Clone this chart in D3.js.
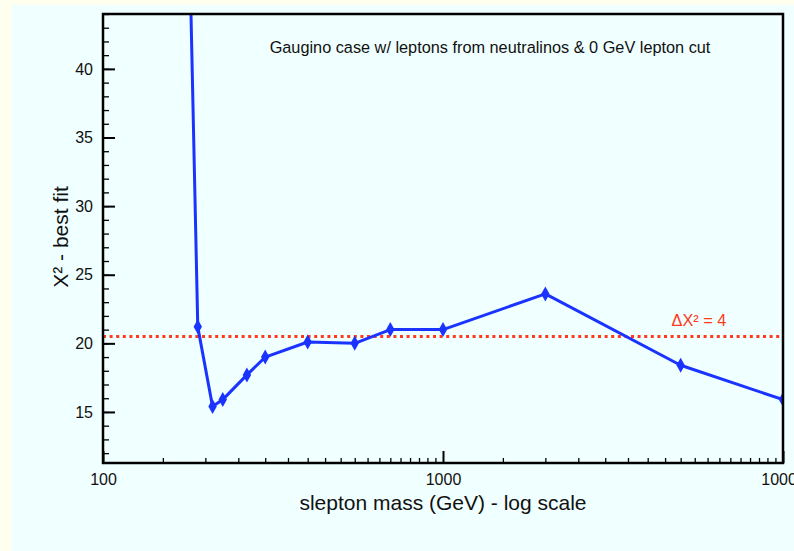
<!DOCTYPE html>
<html>
<head>
<meta charset="utf-8">
<script src="https://cdn.jsdelivr.net/npm/d3@7"></script>
<style>
  html, body { margin: 0; padding: 0; background: #fffff0; }
  svg { display: block; font-family: "Liberation Sans", Arial, Helvetica, sans-serif; }
</style>
</head>
<body>
<div id="chart"></div>
<script>
// slepton mass (GeV) and chi^2 values
const mass = [175, 190, 210, 225, 265, 300, 400, 550, 700, 1000, 2000, 5000, 10000];
const chi2 = [62, 21.2, 15.4, 15.9, 17.7, 19.0, 20.1, 20.0, 21.0, 21.0, 23.6, 18.4, 15.9];
const deltaLine = 20.5;

const xMajor = [100, 1000, 10000];
const xMinor = [];
[100, 1000].forEach(dec => {
    for (let k = 1.5; k < 10; k += 0.5) xMinor.push(dec * k);
});
const yMajor = [15, 20, 25, 30, 35, 40];
const yMinor = d3.range(12, 45);

const width = 794, height = 551;
const plot = { left: 103, right: 783, top: 14, bottom: 463 };

const svg = d3.select("#chart").append("svg")
    .attr("width", width)
    .attr("height", height);

// cyan panel
svg.append("rect")
    .attr("x", 12).attr("y", 5)
    .attr("width", width - 12).attr("height", height - 5)
    .attr("fill", "#f0ffff");

const x = d3.scaleLog().domain([100, 10000]).range([plot.left, plot.right]);
const y = d3.scaleLinear().domain([11.28, 44]).range([plot.bottom, plot.top]);

svg.append("clipPath").attr("id", "plot-clip")
    .append("rect")
    .attr("x", plot.left).attr("y", plot.top)
    .attr("width", plot.right - plot.left)
    .attr("height", plot.bottom - plot.top);

const pts = mass.map((m, i) => ({ m: m, v: chi2[i] }));

const g = svg.append("g").attr("clip-path", "url(#plot-clip)");

// delta chi^2 = 4 line
g.append("line")
    .attr("x1", plot.left).attr("x2", plot.right)
    .attr("y1", y(deltaLine)).attr("y2", y(deltaLine))
    .attr("stroke", "#ff3a1a")
    .attr("stroke-width", 3)
    .attr("stroke-dasharray", "3 3.6");

const line = d3.line().x(d => x(d.m)).y(d => y(d.v));

g.append("path")
    .datum(pts)
    .attr("d", line)
    .attr("fill", "none")
    .attr("stroke", "#1a33ff")
    .attr("stroke-width", 3)
    .attr("stroke-linejoin", "round");

// tall diamonds
g.selectAll("path.marker")
    .data(pts)
    .enter().append("path")
    .attr("class", "marker")
    .attr("transform", d => `translate(${x(d.m)},${y(d.v)})`)
    .attr("d", "M0,-7.5L4.2,0L0,7.5L-4.2,0Z")
    .attr("fill", "#1a33ff");

// axes: minor ticks
svg.append("g")
    .attr("transform", `translate(0,${plot.bottom})`)
    .call(d3.axisBottom(x).tickValues(xMinor).tickSize(-5).tickSizeOuter(0).tickFormat(""))
    .call(a => a.select(".domain").remove())
    .call(a => a.selectAll("line").attr("stroke-width", 1.3));

svg.append("g")
    .attr("transform", `translate(${plot.left},0)`)
    .call(d3.axisLeft(y).tickValues(yMinor).tickSize(-6).tickSizeOuter(0).tickFormat(""))
    .call(a => a.select(".domain").remove())
    .call(a => a.selectAll("line").attr("stroke-width", 1.3));

// axes: major ticks with labels
svg.append("g")
    .attr("transform", `translate(0,${plot.bottom})`)
    .call(d3.axisBottom(x).tickValues(xMajor).tickSize(-12).tickSizeOuter(0)
        .tickPadding(11).tickFormat(d3.format("d")))
    .call(a => a.select(".domain").remove())
    .call(a => a.selectAll("line").attr("stroke-width", 2))
    .call(a => a.selectAll("text").attr("font-size", 16).attr("fill", "#111")
        .attr("font-family", "'Liberation Sans', Arial, sans-serif"));

svg.append("g")
    .attr("transform", `translate(${plot.left},0)`)
    .call(d3.axisLeft(y).tickValues(yMajor).tickSize(-12).tickSizeOuter(0).tickPadding(10))
    .call(a => a.select(".domain").remove())
    .call(a => a.selectAll("line").attr("stroke-width", 2))
    .call(a => a.selectAll("text").attr("font-size", 16).attr("fill", "#111")
        .attr("font-family", "'Liberation Sans', Arial, sans-serif"));

// frame
svg.append("rect")
    .attr("x", plot.left).attr("y", plot.top)
    .attr("width", plot.right - plot.left)
    .attr("height", plot.bottom - plot.top)
    .attr("fill", "none")
    .attr("stroke", "#000")
    .attr("stroke-width", 2.5);

// texts
svg.append("text")
    .attr("x", 490).attr("y", 53)
    .attr("text-anchor", "middle")
    .attr("font-size", 16.3)
    .attr("fill", "#111")
    .text("Gaugino case w/ leptons from neutralinos & 0 GeV lepton cut");

svg.append("text")
    .attr("x", 699).attr("y", 326)
    .attr("text-anchor", "middle")
    .attr("font-size", 16.3)
    .attr("fill", "#ff3a1a")
    .text("ΔX² = 4");

svg.append("text")
    .attr("transform", "translate(68,237) rotate(-90)")
    .attr("text-anchor", "middle")
    .attr("font-size", 21)
    .attr("fill", "#111")
    .text("X² - best fit");

svg.append("text")
    .attr("x", 443).attr("y", 510)
    .attr("text-anchor", "middle")
    .attr("font-size", 21)
    .attr("fill", "#111")
    .text("slepton mass (GeV) - log scale");
</script>
</body>
</html>
